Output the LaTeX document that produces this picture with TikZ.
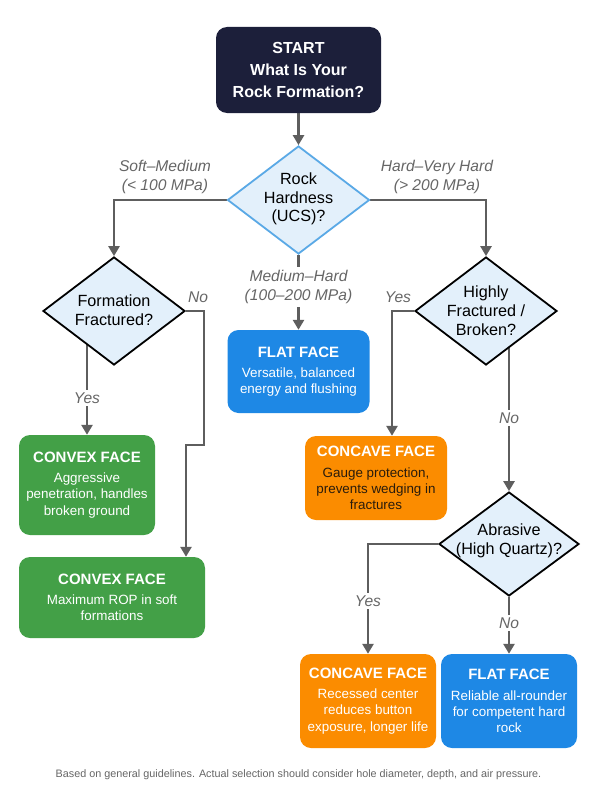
\documentclass[tikz,border=0pt]{standalone}
\usepackage{fontspec}
\setmainfont{Liberation Sans}
\usetikzlibrary{arrows.meta,shapes.geometric,backgrounds}
\definecolor{navy}{HTML}{1C1F3A}
\definecolor{flatblue}{HTML}{1E88E5}
\definecolor{cvxgreen}{HTML}{43A047}
\definecolor{ccvorange}{HTML}{FB8C00}
\definecolor{diafill}{HTML}{E3F0FB}
\definecolor{diaedge}{HTML}{5AA9E6}
\definecolor{conn}{HTML}{5E5E5E}
\definecolor{lblgrey}{HTML}{666666}
\definecolor{darktxt}{HTML}{2A1C0C}
\newcommand\bxtitle[1]{{\fontsize{15}{18}\selectfont\bfseries #1}}
\begin{document}
\begin{tikzpicture}[x=1pt,y=-1pt,
  card/.style={rounded corners=11pt, inner sep=0pt, align=center, text=white,
    font=\fontsize{13.4}{16.2}\selectfont},
  dia/.style={diamond, draw=black, line width=1.8pt, fill=diafill, inner sep=0pt,
    minimum width=142pt, minimum height=108pt},
  dtext/.style={align=center, font=\fontsize{16.2}{18.8}\selectfont, text=black},
  lbl/.style={align=center, font=\fontsize{15.6}{19}\selectfont\itshape, text=lblgrey, inner sep=3pt},
  lblw/.style={lbl, fill=white},
  arr/.style={draw=conn, line width=2.5pt, -{Triangle[width=11pt,length=10pt]}},
  ln/.style={draw=conn, line width=2.5pt}]
\useasboundingbox (0,0) rectangle (597,800);

% start
\node[card, fill=navy, minimum width=165pt, minimum height=86pt,
  font=\fontsize{16}{22}\selectfont\bfseries] (start) at (298.5,70)
  {START\\What Is Your\\Rock Formation?};

% decision diamonds
\node[dia, draw=diaedge] (d1) at (298.5,200) {};
\node[dtext] (d1t) at (298.5,199) {Rock\\Hardness\\(UCS)?};
\node[dia] (f) at (114,311) {};
\node[dtext] (ft) at (114,310) {Formation\\Fractured?};
\node[dia] (h) at (486,311) {};
\node[dtext] (ht) at (486,311) {Highly\\Fractured /\\Broken?};
\node[dia, minimum width=140pt, minimum height=104pt] (abr) at (509,544) {};
\node[dtext] (abrt) at (509,541) {Abrasive\\(High Quartz)?};

% result cards
\node[card, fill=flatblue, minimum width=142pt, minimum height=83pt] (flat1) at (298.5,371.5)
  {\bxtitle{FLAT FACE}\\[4pt]Versatile, balanced\\energy and flushing};
\node[card, fill=cvxgreen, minimum width=136pt, minimum height=100pt] (conv1) at (87,485)
  {\bxtitle{CONVEX FACE}\\[4pt]Aggressive\\penetration, handles\\broken ground};
\node[card, fill=cvxgreen, minimum width=186pt, minimum height=81pt] (conv2) at (112,597.5)
  {\bxtitle{CONVEX FACE}\\[4pt]Maximum ROP in soft\\formations};
\node[card, fill=ccvorange, minimum width=142pt, minimum height=84pt, text=darktxt] (conc1) at (376,478)
  {\textcolor{white}{\bxtitle{CONCAVE FACE}}\\[4pt]Gauge protection,\\prevents wedging in\\fractures};
\node[card, fill=ccvorange, minimum width=136pt, minimum height=94pt] (conc2) at (368,701)
  {\bxtitle{CONCAVE FACE}\\[4pt]Recessed center\\reduces button\\exposure, longer life};
\node[card, fill=flatblue, minimum width=136pt, minimum height=94pt] (flat2) at (509,701)
  {\bxtitle{FLAT FACE}\\[4pt]Reliable all-rounder\\for competent hard\\rock};

% branch labels
\node[lbl] (lsoft) at (165,177) {Soft–Medium\\(< 100 MPa)};
\node[lbl] (lhard) at (437,177) {Hard–Very Hard\\(> 200 MPa)};
\node[lblw] (lmed) at (298.5,287) {Medium–Hard\\(100–200 MPa)};
\node[lbl] (lfno) at (198,297) {No};
\node[lblw] (lfyes) at (87,398) {Yes};
\node[lbl] (lhyes) at (398,297) {Yes};
\node[lblw] (lhno) at (509,418) {No};
\node[lblw] (layes) at (368,601) {Yes};
\node[lblw] (lano) at (509,623) {No};

% footer
\node[font=\fontsize{10.8}{12}\selectfont, text=lblgrey] (foot) at (298.5,775)
  {Based on general guidelines. Actual selection should consider hole diameter, depth, and air pressure.};

% turning points
\coordinate (fno2) at (204,445);
\coordinate (fno3) at (186,445);
\coordinate (hyes) at (392,311);

\begin{pgfonlayer}{background}
\fill[white] (0,0) rectangle (597,800);
\draw[arr] (start.south) -- (d1.north);
\draw[arr] (d1.west) -| (f.north);
\draw[arr] (d1.east) -| (h.north);
\draw[arr] (d1.south) -- (flat1.north);
\draw[arr] (f.center -| conv1.north) -- (conv1.north);
\draw[arr] (f.east) -| (fno2) -- (fno3) -- (fno3 |- conv2.north);
\draw[arr] (h.west) -- (hyes) -- (hyes |- conc1.north);
\draw[arr] (h.center -| abr.north) -- (abr.north);
\draw[arr] (abr.west) -| (conc2.north);
\draw[arr] (abr.south) -- (flat2.north);
\end{pgfonlayer}
\end{tikzpicture}
\end{document}
